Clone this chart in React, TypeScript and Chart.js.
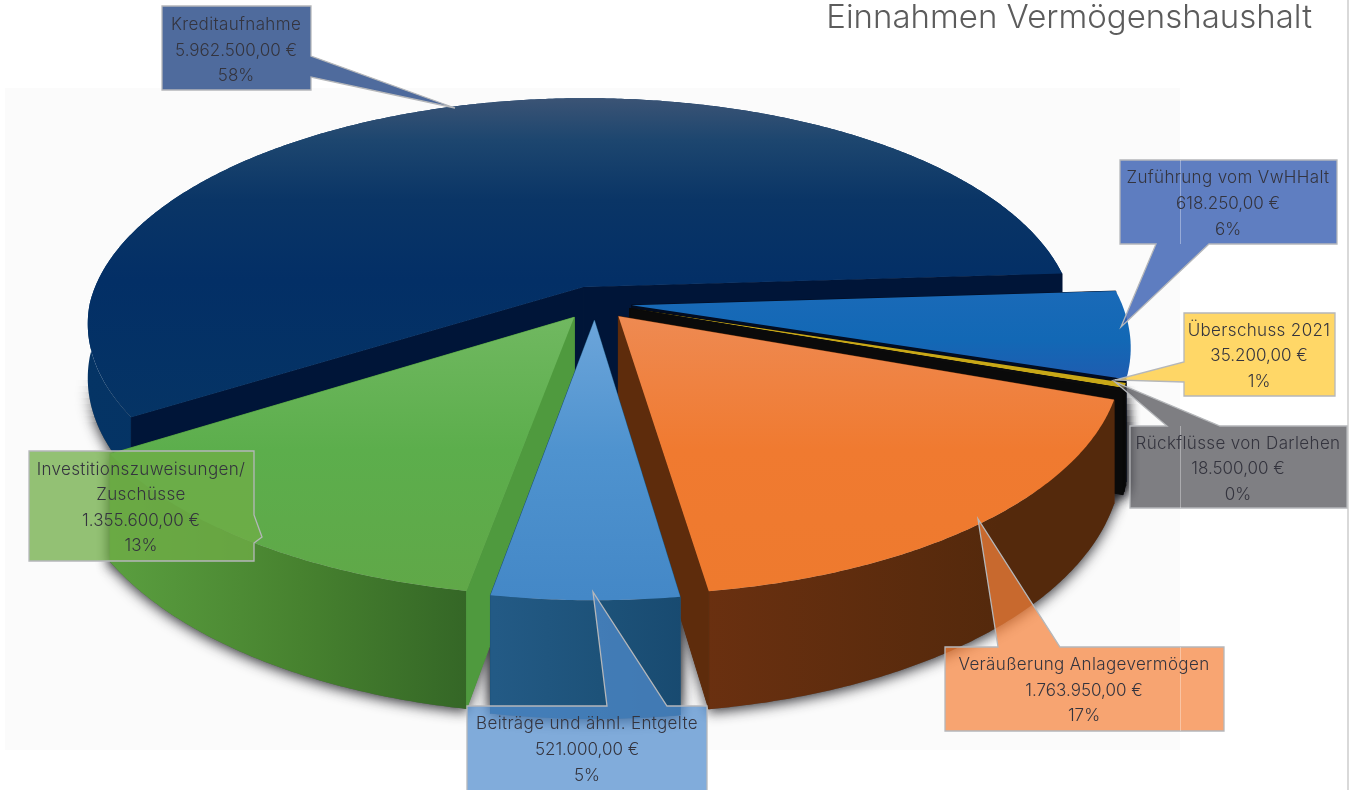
import React, { useEffect, useRef } from "react";
import { Chart, registerables } from "chart.js";

Chart.register(...registerables);

const categories = [
  ["Kreditaufnahme"],
  ["Zuführung vom VwHHalt"],
  ["Überschuss 2021"],
  ["Rückflüsse von Darlehen"],
  ["Veräußerung Anlagevermögen"],
  ["Beiträge und ähnl. Entgelte"],
  ["Investitionszuweisungen/", "Zuschüsse"],
];
const amounts = [5962500, 618250, 35200, 18500, 1763950, 521000, 1355600];
const percents = ["58%", "6%", "1%", "0%", "17%", "5%", "13%"];
const titleText = "Einnahmen Vermögenshaushalt";

const FONT = '"Inter", "Open Sans", sans-serif';
type Stop = [number, string];
const topStops: Stop[][] = [
  [[97, "#3c5475"], [140, "#1d466f"], [200, "#0a3566"], [280, "#032f66"], [420, "#053465"]],
  [[290, "#1a6ab8"], [340, "#1268b5"], [380, "#1f5cb0"]],
  [[300, "#c8a818"], [380, "#c8a818"]],
  [[300, "#0c0c0c"], [380, "#0c0c0c"]],
  [[316, "#ee8a52"], [450, "#f07a30"], [590, "#ee7a2e"]],
  [[320, "#6ca5da"], [450, "#4f93cf"], [597, "#4488c7"]],
  [[320, "#70b860"], [450, "#5cae4c"], [590, "#60a848"]],
];
// horizontal wall shading: [x, colour]
const wallStops: (Stop[] | null)[] = [
  [[80, "#053465"], [600, "#053060"]],
  null,
  [[1000, "#0a0a0a"], [1200, "#0a0a0a"]],
  [[1000, "#0a0a0a"], [1200, "#0a0a0a"]],
  [[705, "#6a3010"], [1000, "#54290c"], [1110, "#54290c"]],
  [[495, "#235a85"], [600, "#1d5279"], [685, "#184a70"]],
  [[115, "#5a9e3f"], [300, "#47822f"], [470, "#346626"]],
];
const wallHeight = [0.55, 1, 1, 1, 1, 1, 1];
const apexDepth = [1.4, 1, 1, 1, 1, 1, 1];
const radialWall = ["#001538", "#020c20", "#0a0a0a", "#0a0a0a", "#5e2c0c", "#1d5279", "#4f9a3e"];
const drawOrder = [0, 1, 2, 3, 6, 4, 5];

type Callout = { rect: number[]; ptr: number[][]; fill: string; ys: number[]; cx: number };
const callouts: Callout[] = [
  { rect: [162, 6, 311, 90], ptr: [[311, 56], [455, 108], [311, 77]], fill: "rgba(30,65,130,0.78)", ys: [25, 51, 76], cx: 236 },
  { rect: [1120, 160, 1337, 244], ptr: [[1209, 244], [1121, 327], [1156, 244]], fill: "rgba(50,90,175,0.78)", ys: [178, 204, 230], cx: 1228 },
  { rect: [1184, 313, 1335, 396], ptr: [[1184, 382], [1115, 380], [1184, 362]], fill: "rgba(255,204,60,0.78)", ys: [331, 356, 382], cx: 1259 },
  { rect: [1130, 426, 1347, 508], ptr: [[1167, 426], [1115, 382], [1220, 426]], fill: "rgba(80,80,85,0.73)", ys: [444, 469, 495], cx: 1238 },
  { rect: [945, 647, 1224, 731], ptr: [[998, 647], [978, 519], [1060, 647]], fill: "rgba(245,130,60,0.72)", ys: [665, 691, 716], cx: 1084 },
  { rect: [467, 706, 707, 792], ptr: [[607, 706], [593, 592], [667, 706]], fill: "rgba(80,140,205,0.72)", ys: [724, 750, 776], cx: 587 },
  { rect: [29, 451, 254, 561], ptr: [[254, 515], [262, 537], [254, 543]], fill: "rgba(112,173,71,0.75)", ys: [470, 495, 521, 546], cx: 141 },
];

const euro = (v: number) =>
  v.toLocaleString("de-DE", { minimumFractionDigits: 2, maximumFractionDigits: 2 }) + " €";

// Perspective of the tilted disc
const CX = 595, CY = 303, BX = 490, AY = 226, K = 0.17, H = 97, EXPLODE = 0.075;
function project(nx: number, d: number, z: number) {
  const w = 1 - K * d;
  const skew = nx < 0 ? 1 + 0.01 * Math.max(0, 1 - Math.abs(d)) : 1;
  return [CX + (BX * nx * skew) / w, CY + (AY * d) / w + (H * z) / w];
}

function grad(ctx: CanvasRenderingContext2D, stops: Stop[], vertical: boolean) {
  const a = stops[0][0], b = stops[stops.length - 1][0];
  const g = vertical ? ctx.createLinearGradient(0, a, 0, b) : ctx.createLinearGradient(a, 0, b, 0);
  stops.forEach(([p, c]) => g.addColorStop((p - a) / (b - a || 1), c));
  return g;
}

function polygon(ctx: CanvasRenderingContext2D, pts: number[][]) {
  ctx.beginPath();
  pts.forEach((p, i) => (i ? ctx.lineTo(p[0], p[1]) : ctx.moveTo(p[0], p[1])));
  ctx.closePath();
}

function sliceGeometry(start: number, end: number) {
  const mid = (start + end) / 2;
  const ox = Math.cos(mid) * EXPLODE, oy = Math.sin(mid) * EXPLODE;
  const n = Math.max(2, Math.ceil((end - start) / (Math.PI / 360)));
  const rim: number[][] = [];
  for (let i = 0; i <= n; i++) {
    const a = start + ((end - start) * i) / n;
    rim.push([Math.cos(a) + ox, Math.sin(a) + oy]);
  }
  return { ox, oy, rim };
}

const rimWall = (rim: number[][], h: number) =>
  rim.map((p) => project(p[0], p[1], 0)).concat(rim.slice().reverse().map((p) => project(p[0], p[1], h)));

const pie3d = {
  id: "pie3d",
  beforeDatasetsDraw(chart: any) {
    const ctx: CanvasRenderingContext2D = chart.ctx;
    const arcs = chart.getDatasetMeta(0).data;
    ctx.save();
    ctx.fillStyle = "#fbfbfb";
    ctx.fillRect(5, 88, 1175, 662);

    // soft shadow under the lower part of the pie, fading in from above
    const bands: number[][] = [];
    for (let k = 0; k < 8; k++) bands.push([380 + k * 6, 6, (k + 1) / 8]);
    bands.push([428, 362, 1]);
    bands.forEach(([top, h, alpha]) => {
      ctx.save();
      ctx.beginPath();
      ctx.rect(0, top, 1358, h);
      ctx.clip();
      ctx.globalAlpha = alpha;
      ctx.shadowColor = "rgba(30,30,35,0.9)";
      ctx.shadowBlur = 13;
      ctx.shadowOffsetY = 3;
      drawOrder.forEach((i) => {
        if (!wallStops[i]) return;
        const { ox, oy, rim } = sliceGeometry(arcs[i].startAngle, arcs[i].endAngle);
        polygon(ctx, rimWall(rim, wallHeight[i]));
        ctx.fillStyle = "#555";
        ctx.fill();
        [rim[0], rim[rim.length - 1]].forEach((e) => {
          polygon(ctx, [project(ox, oy, 0), project(e[0], e[1], 0), project(e[0], e[1], 1), project(ox, oy, 1)]);
          ctx.fill();
        });
      });
      ctx.restore();
    });

    drawOrder.forEach((i) => {
      const { startAngle, endAngle } = arcs[i];
      const { ox, oy, rim } = sliceGeometry(startAngle, endAngle);
      const apexTop = project(ox, oy, 0), apexBot = project(ox, oy, apexDepth[i]);
      const first = rim[0], last = rim[rim.length - 1];
      const radial = (e: number[]) => {
        polygon(ctx, [apexTop, project(e[0], e[1], 0), project(e[0], e[1], 1), apexBot]);
        ctx.fillStyle = radialWall[i];
        ctx.strokeStyle = radialWall[i];
        ctx.lineWidth = 1;
        ctx.fill();
        ctx.stroke();
      };
      const startFront = -Math.cos(startAngle) > 0;
      const endFront = Math.cos(endAngle) > 0;
      if (!startFront) radial(first);
      if (!endFront) radial(last);
      // outer wall
      const ws = wallStops[i];
      if (ws) {
        polygon(ctx, rimWall(rim, wallHeight[i]));
        ctx.fillStyle = grad(ctx, ws, false);
        ctx.fill();
      }
      if (startFront) radial(first);
      if (endFront) radial(last);
      // top face
      polygon(ctx, [apexTop].concat(rim.map((p) => project(p[0], p[1], 0))));
      ctx.fillStyle = grad(ctx, topStops[i], true);
      ctx.fill();
    });
    ctx.restore();
    return false;
  },
  afterDraw(chart: any) {
    const ctx: any = chart.ctx;
    ctx.save();
    // page edge line
    ctx.fillStyle = "#d9d9d9";
    ctx.fillRect(1347, 0, 2, 790);

    callouts.forEach((c, i) => {
      const [x0, y0, x1, y1] = c.rect;
      const [a] = c.ptr;
      let outline: number[][];
      if (a[1] === y0) outline = [[x0, y0], ...c.ptr, [x1, y0], [x1, y1], [x0, y1]];
      else if (a[1] === y1) outline = [[x0, y0], [x1, y0], [x1, y1], ...c.ptr, [x0, y1]];
      else if (a[0] === x0) outline = [[x0, y0], [x1, y0], [x1, y1], [x0, y1], ...c.ptr];
      else outline = [[x0, y0], [x1, y0], [x1, c.ptr[0][1]], c.ptr[1], [x1, c.ptr[2][1]], [x1, y1], [x0, y1]];
      polygon(ctx, outline);
      ctx.fillStyle = c.fill;
      ctx.fill();
      ctx.strokeStyle = "#b5b7ba";
      ctx.lineWidth = 1.3;
      ctx.stroke();
      if (x0 < 1180 && x1 > 1180) {
        ctx.strokeStyle = "rgba(255,255,255,0.35)";
        ctx.lineWidth = 1;
        ctx.beginPath();
        ctx.moveTo(1180.5, y0);
        ctx.lineTo(1180.5, y1);
        ctx.stroke();
      }
      const labels = categories[i];
      const lines = [...labels, euro(amounts[i]), percents[i]];
      ctx.font = `300 17px ${FONT}`;
      ctx.fillStyle = "#34343e";
      ctx.textAlign = "center";
      ctx.textBaseline = "middle";
      lines.forEach((t, j) => {
        ctx.letterSpacing = j < labels.length ? "0.35px" : "0px";
        ctx.fillText(t, c.cx, c.ys[j]);
      });
      ctx.letterSpacing = "0px";
    });
    ctx.restore();
  },
};

export default function App() {
  const ref = useRef<HTMLCanvasElement>(null);
  useEffect(() => {
    const chart = new Chart(ref.current as HTMLCanvasElement, {
      type: "pie",
      data: {
        labels: categories.map((c) => c.join(" ")),
        datasets: [{ data: amounts, rotation: 237.5, borderWidth: 0 } as any],
      },
      options: {
        responsive: false,
        animation: false,
        layout: { padding: { right: 46 } },
        plugins: {
          legend: { display: false },
          tooltip: { enabled: false },
          title: {
            display: true,
            text: titleText,
            align: "end",
            color: "#5c5c5c",
            padding: { top: -2, bottom: 0 },
            font: { family: FONT, size: 33, weight: "300" },
          },
        },
      } as any,
      plugins: [pie3d as any],
    });
    return () => chart.destroy();
  }, []);
  return (
    <canvas
      ref={ref}
      width={1358}
      height={790}
      style={{ position: "fixed", left: 0, top: 0, width: 1358, height: 790, background: "#fff" }}
    />
  );
}
